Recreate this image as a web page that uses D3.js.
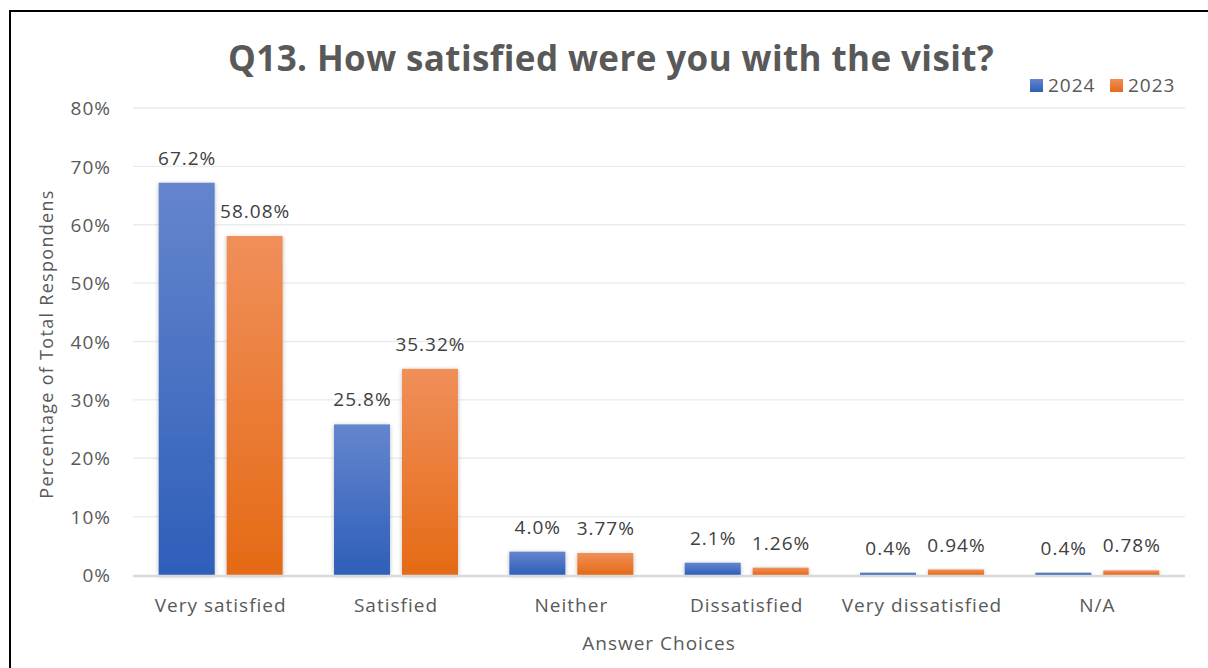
<!DOCTYPE html>
<html><head><meta charset="utf-8">
<script src="https://cdn.jsdelivr.net/npm/d3@7"></script>
<style>html,body{margin:0;padding:0;background:#fff;overflow:hidden}</style>
</head><body>
<svg id="chart" width="1208" height="668"></svg>
<script>
const categories = ["Very satisfied","Satisfied","Neither","Dissatisfied","Very dissatisfied","N/A"];
const seriesNames = ["2024","2023"];
const values2024 = [67.2, 25.8, 4.0, 2.1, 0.4, 0.4];
const values2023 = [58.08, 35.32, 3.77, 1.26, 0.94, 0.78];
const labels2024 = ["67.2%","25.8%","4.0%","2.1%","0.4%","0.4%"];
const labels2023 = ["58.08%","35.32%","3.77%","1.26%","0.94%","0.78%"];
const yTicks = [0,10,20,30,40,50,60,70,80];

const svg = d3.select("#chart");
const font = "'Open Sans', sans-serif";
const txt = "#595959";
const fs = 19, ls = 1;

const defs = svg.append("defs");
const grads = [["g2024","#6585CD","#2E5FB9"],["g2023","#F08F5A","#E56A15"]];
grads.forEach(([id,c1,c2])=>{
  const g = defs.append("linearGradient").attr("id",id).attr("x1",0).attr("y1",0).attr("x2",0).attr("y2",1);
  g.append("stop").attr("offset","0%").attr("stop-color",c1);
  g.append("stop").attr("offset","100%").attr("stop-color",c2);
});
const f = defs.append("filter").attr("id","sh").attr("x","-20%").attr("y","-20%").attr("width","140%").attr("height","140%");
f.append("feDropShadow").attr("dx",0).attr("dy",1).attr("stdDeviation",2).attr("flood-color","#000").attr("flood-opacity",0.28);

svg.append("rect").attr("x",10).attr("y",11).attr("width",1210).attr("height",680)
  .attr("fill","none").attr("stroke","#000").attr("stroke-width",2);

const pLeft = 133, pRight = 1185, pTop = 108, pBottom = 575;
const x = d3.scaleBand().domain(categories).range([pLeft,pRight]).paddingInner(0).paddingOuter(0);
const y = d3.scaleLinear().domain([0,80]).range([pBottom,pTop]);
const xs = d3.scaleBand().domain(seriesNames).range([0,x.bandwidth()]).paddingInner(0.176).paddingOuter(0.378);

svg.append("g").selectAll("line").data(yTicks.filter(d=>d>0)).join("line")
  .attr("x1",pLeft).attr("x2",pRight).attr("y1",d=>y(d)).attr("y2",d=>y(d))
  .attr("stroke","#EBEBEB").attr("stroke-width",1.3);

const yAxis = d3.axisLeft(y).tickValues(yTicks).tickFormat(d=>d+"%").tickSize(0).tickPadding(0);
const ya = svg.append("g").attr("transform",`translate(111,0)`).call(yAxis);
ya.select(".domain").remove();
ya.selectAll("text").attr("font-family",font).attr("font-size",fs).attr("letter-spacing",ls).attr("fill",txt).attr("dy","0.35em");

const data = categories.map((c,i)=>({c, v:[values2024[i],values2023[i]], l:[labels2024[i],labels2023[i]]}));
const groups = svg.append("g").selectAll("g").data(data).join("g")
  .attr("transform",d=>`translate(${x(d.c)},0)`);
groups.selectAll("rect").data(d=>seriesNames.map((s,j)=>({s,v:d.v[j]})) ).join("rect")
  .attr("x",d=>xs(d.s)).attr("width",xs.bandwidth())
  .attr("y",d=>y(d.v)).attr("height",d=>pBottom-y(d.v))
  .attr("fill",d=>d.s==="2024"?"url(#g2024)":"url(#g2023)")
  .attr("filter","url(#sh)");
groups.selectAll("text").data(d=>seriesNames.map((s,j)=>({s,v:d.v[j],l:d.l[j]}))).join("text")
  .attr("x",d=>xs(d.s)+xs.bandwidth()/2+ls/2).attr("y",d=>y(d.v)-18)
  .attr("text-anchor","middle").attr("font-family",font).attr("font-size",fs).attr("letter-spacing",ls).attr("fill","#404040")
  .text(d=>d.l);

svg.append("line").attr("x1",pLeft).attr("x2",pRight).attr("y1",pBottom+1).attr("y2",pBottom+1)
  .attr("stroke","#D9D9D9").attr("stroke-width",2.5);

const xAxis = d3.axisBottom(x).tickSize(0).tickPadding(0);
const xa = svg.append("g").attr("transform",`translate(0,${pBottom})`).call(xAxis);
xa.select(".domain").remove();
xa.selectAll("text").attr("font-family",font).attr("font-size",fs).attr("letter-spacing",ls).attr("fill",txt).attr("dy",0).attr("y",37);

svg.append("text").attr("x",611).attr("y",71).attr("text-anchor","middle")
  .attr("font-family",font).attr("font-weight","bold").attr("font-size",35).attr("letter-spacing",0.4).attr("fill",txt)
  .text("Q13. How satisfied were you with the visit?");
svg.append("text").attr("x",659).attr("y",650).attr("text-anchor","middle")
  .attr("font-family",font).attr("font-size",fs).attr("letter-spacing",ls).attr("fill",txt).text("Answer Choices");
svg.append("text").attr("transform","translate(53,344) rotate(-90)").attr("text-anchor","middle")
  .attr("font-family",font).attr("font-size",18).attr("letter-spacing",1.3).attr("fill",txt).text("Percentage of Total Respondens");

const leg = svg.append("g");
const legX = [1030,1110];
seriesNames.forEach((s,i)=>{
  leg.append("rect").attr("x",legX[i]).attr("y",79).attr("width",13).attr("height",13)
    .attr("fill",`url(#g${s})`);
  leg.append("text").attr("x",legX[i]+18).attr("y",92).attr("font-family",font).attr("font-size",fs).attr("letter-spacing",ls)
    .attr("fill",txt).text(s);
});
</script>
</body></html>
